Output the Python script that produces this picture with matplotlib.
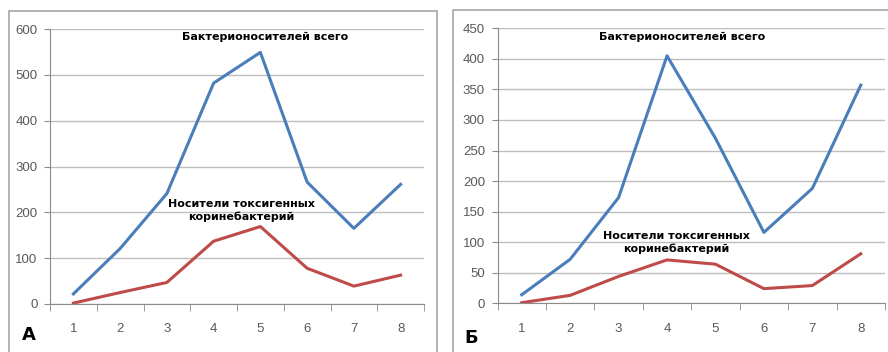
import matplotlib.pyplot as plt
from matplotlib.patches import Rectangle
from matplotlib.ticker import FixedLocator, NullFormatter
from matplotlib import font_manager

# data
months = [1, 2, 3, 4, 5, 6, 7, 8]
total_a = [22, 121, 241, 482, 549, 266, 165, 261]
toxic_a = [2, 25, 47, 137, 169, 78, 39, 63]
total_b = [14, 72, 173, 405, 270, 116, 188, 357]
toxic_b = [1, 13, 44, 71, 64, 24, 29, 81]
yticks_a = [0, 100, 200, 300, 400, 500, 600]
yticks_b = [0, 50, 100, 150, 200, 250, 300, 350, 400, 450]

label_total = "Бактерионосителей всего"
label_toxic = "Носители токсигенных\nкоринебактерий"

names = {f.name for f in font_manager.fontManager.ttflist}
tick_font = "Liberation Sans Narrow" if "Liberation Sans Narrow" in names else "Liberation Sans"

blue = "#4A7EBB"
red = "#BE4B48"
grid_c = "#BEBEBE"

fig = plt.figure(figsize=(8.88, 3.52), dpi=100)
W, H = 888, 352

# panel frames (pixel coordinates turned into figure fractions)
fig.patches.append(Rectangle((9 / W, -0.05), 428 / W, (H - 11) / H + 0.05,
                             transform=fig.transFigure, fill=False,
                             edgecolor="#A6A6A6", lw=1.2))
fig.patches.append(Rectangle((453 / W, -0.05), 440 / W, (H - 10) / H + 0.05,
                             transform=fig.transFigure, fill=False,
                             edgecolor="#A6A6A6", lw=1.2))

ax_a = fig.add_axes([50 / W, 48 / H, 374 / W, 275 / H])
ax_b = fig.add_axes([497.5 / W, 48.7 / H, 387.5 / W, 275 / H])


def style(ax, yticks):
    ax.set_xlim(0.5, 8.5)
    ax.set_ylim(0, yticks[-1])
    for s in ["top", "right"]:
        ax.spines[s].set_visible(False)
    ax.spines["left"].set_color("#8C8C8C")
    ax.spines["bottom"].set_color("#8C8C8C")
    ax.set_yticks(yticks)
    ax.yaxis.grid(True, color=grid_c, lw=1)
    ax.set_axisbelow(True)
    ax.set_xticks(months)
    ax.xaxis.set_minor_locator(FixedLocator([m + 0.5 for m in range(0, 9)]))
    ax.xaxis.set_minor_formatter(NullFormatter())
    ax.tick_params(axis="x", which="major", length=0, pad=14)
    ax.tick_params(axis="x", which="minor", length=5, color="#8C8C8C")
    ax.tick_params(axis="y", length=4, color="#8C8C8C", pad=5)
    for lab in ax.get_xticklabels() + ax.get_yticklabels():
        lab.set_fontfamily(tick_font)
        lab.set_fontsize(9.5)
        lab.set_color("#595959")


ax_a.plot(months, total_a, color=blue, lw=2.2)
ax_a.plot(months, toxic_a, color=red, lw=2.2)
style(ax_a, yticks_a)
ax_a.text(5.1, 582, label_total, ha="center", va="center",
          fontsize=8, fontweight="bold")
ax_a.text(4.59, 203, label_toxic, ha="center", va="center",
          fontsize=8, fontweight="bold", linespacing=1.3)

ax_b.plot(months, total_b, color=blue, lw=2.2)
ax_b.plot(months, toxic_b, color=red, lw=2.2)
style(ax_b, yticks_b)
ax_b.text(4.31, 436, label_total, ha="center", va="center",
          fontsize=8, fontweight="bold")
ax_b.text(4.2, 100, label_toxic, ha="center", va="center",
          fontsize=8, fontweight="bold", linespacing=1.3)

fig.text(29 / W, 1 - 335 / H, "А", ha="center", va="center",
         fontsize=13, fontweight="bold")
fig.text(471 / W, 1 - 338 / H, "Б", ha="center", va="center",
         fontsize=13, fontweight="bold")

fig.savefig("out.png", dpi=100)
